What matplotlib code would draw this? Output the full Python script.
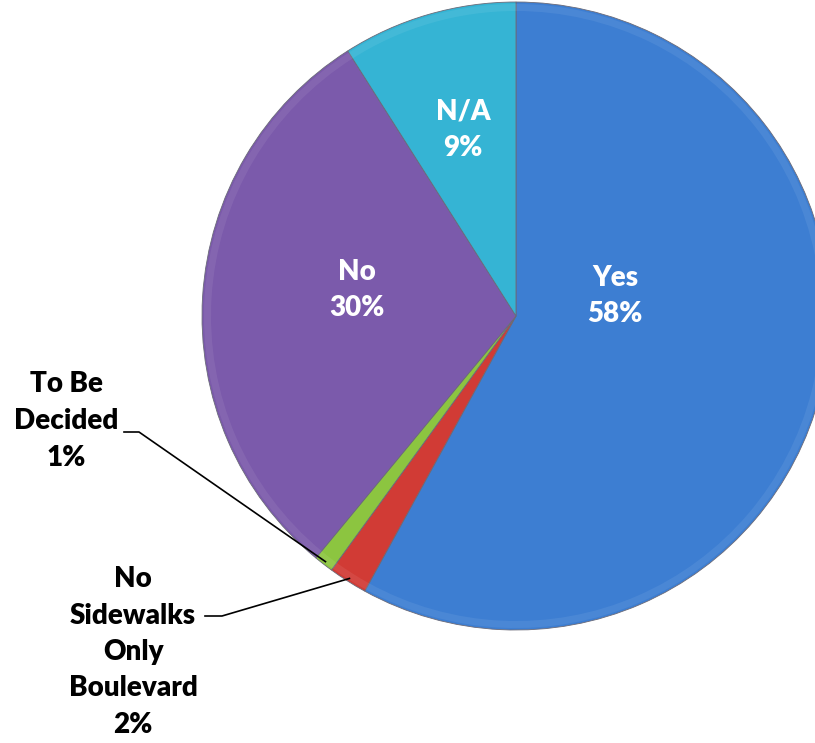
import numpy as np
import matplotlib.pyplot as plt
from matplotlib.patches import Wedge

plt.rcParams['font.family'] = ['Lato', 'DejaVu Sans']

# Survey answers, clockwise from 12 o'clock
labels = ['Yes', 'No\nSidewalks\nOnly\nBoulevard', 'To Be\nDecided', 'No', 'N/A']
values = [58, 2, 1, 30, 9]
colors = ['#3D7ED2', '#D13B35', '#8CC540', '#7B5AAB', '#35B4D4']

W, H = 815, 743
fig = plt.figure(figsize=(W / 100, H / 100), dpi=100)
ax = fig.add_axes([0, 0, 1, 1])

cx, cy, r = 516, H - 316, 314

wedges, _ = ax.pie(values, colors=colors, startangle=90, counterclock=False,
                   center=(cx, cy), radius=r, frame=True,
                   wedgeprops=dict(edgecolor='#6a6a78', linewidth=0.6))
ax.set_xlim(0, W)
ax.set_ylim(0, H)
ax.set_aspect('equal')
ax.axis('off')

# soft bevel along the rim of each slice
for w in wedges:
    ax.add_patch(Wedge((cx, cy), r - 2, w.theta1, w.theta2, width=7,
                       facecolor='white', alpha=0.07, edgecolor='none'))

def label_text(i):
    return f'{labels[i]}\n{values[i]}%'

fs = 20
ls = 1.5

# labels inside the big slices
for i, (x, y) in zip([0, 3, 4], [(615, 296), (357, 290), (463, 130)]):
    ax.text(x, H - y, label_text(i), color='white', fontsize=fs, fontweight='heavy',
            ha='center', va='center', linespacing=ls)

# outside labels with leader lines to the slice middle
total = sum(values)
def mid_point(i, frac=1.0):
    start = 90 - 360 * sum(values[:i]) / total
    ang = np.radians(start - 360 * values[i] / total / 2)
    return cx + r * frac * np.cos(ang), cy + r * frac * np.sin(ang)

ax.text(66, H - 421, label_text(2), color='black', fontsize=fs, fontweight='heavy',
        ha='center', va='center', linespacing=ls)
px, py = mid_point(2, 0.99)
ax.plot([124, 139, px], [H - 432, H - 432, py], color='black', lw=1.2)

ax.text(133, H - 652, label_text(1), color='black', fontsize=fs, fontweight='heavy',
        ha='center', va='center', linespacing=ls)
px, py = mid_point(1, 0.99)
ax.plot([205, 222, px], [H - 616, H - 616, py], color='black', lw=1.2)

fig.savefig('out.png', dpi=100)
